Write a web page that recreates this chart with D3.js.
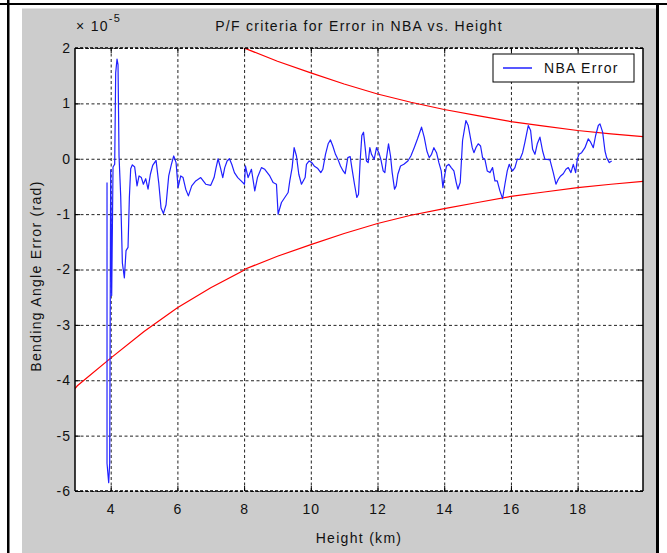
<!DOCTYPE html>
<html>
<head>
<meta charset="utf-8">
<script src="https://cdn.jsdelivr.net/npm/d3@7/dist/d3.min.js"></script>
<style>
  html, body { margin: 0; padding: 0; background: #ffffff; }
  svg { display: block; }
  text { font-family: "Liberation Sans", Arial, Helvetica, sans-serif; fill: #111; }
</style>
</head>
<body>
<svg id="chart" width="667" height="553"></svg>
<script>
// ---------------- data (error values in units of 1e-5 rad) ----------------
const heights = [3.89,3.89,3.94,3.97,4.0,4.03,4.07,4.12,4.15,4.19,4.22,4.25,4.3,4.35,4.41,4.46,4.52,4.56,4.6,4.65,4.72,4.79,4.85,4.92,4.98,5.05,5.12,5.19,5.26,5.36,5.44,5.51,5.58,5.66,5.74,5.82,5.89,5.96,6.02,6.1,6.17,6.25,6.33,6.43,6.55,6.7,6.85,7.0,7.1,7.16,7.22,7.29,7.36,7.42,7.49,7.56,7.63,7.71,7.81,7.91,8.01,8.04,8.12,8.22,8.32,8.4,8.52,8.62,8.77,8.87,8.97,9.02,9.12,9.22,9.32,9.37,9.44,9.5,9.57,9.64,9.72,9.83,9.87,9.95,10.03,10.1,10.2,10.3,10.36,10.44,10.52,10.59,10.66,10.74,10.82,10.89,10.97,11.03,11.11,11.18,11.23,11.31,11.38,11.43,11.48,11.53,11.58,11.63,11.67,11.72,11.77,11.82,11.9,11.97,12.04,12.1,12.17,12.22,12.27,12.33,12.39,12.44,12.51,12.56,12.61,12.69,12.79,12.91,13.0,13.1,13.2,13.32,13.4,13.48,13.55,13.62,13.69,13.77,13.84,13.91,13.96,14.01,14.07,14.14,14.21,14.29,14.36,14.41,14.48,14.55,14.65,14.72,14.84,14.89,14.95,15.02,15.09,15.15,15.22,15.29,15.37,15.45,15.52,15.59,15.67,15.75,15.82,15.89,15.95,15.99,16.05,16.12,16.19,16.27,16.35,16.42,16.52,16.59,16.65,16.72,16.79,16.87,16.95,17.02,17.09,17.17,17.27,17.35,17.42,17.49,17.57,17.65,17.72,17.8,17.87,17.94,17.99,18.04,18.12,18.22,18.32,18.39,18.47,18.54,18.62,18.67,18.75,18.82,18.87,18.95,19.02,19.07];
const nbaError = [-0.43,-5.5,-5.85,-5.5,-0.2,-2.47,-0.15,-0.1,1.55,1.8,1.7,0.05,-0.67,-1.88,-2.15,-1.66,-1.6,-0.7,-0.18,-0.11,-0.15,-0.49,-0.31,-0.34,-0.46,-0.36,-0.55,-0.28,-0.12,-0.03,-0.43,-0.89,-0.99,-0.83,-0.31,-0.1,0.05,-0.07,-0.52,-0.31,-0.34,-0.55,-0.67,-0.49,-0.4,-0.34,-0.46,-0.48,-0.34,-0.16,0.0,-0.16,-0.34,-0.16,-0.04,0.0,-0.1,-0.25,-0.34,-0.4,-0.46,-0.13,-0.34,-0.19,-0.58,-0.34,-0.16,-0.19,-0.31,-0.43,-0.46,-1.0,-0.79,-0.7,-0.61,-0.4,-0.16,0.2,0.05,-0.28,-0.46,-0.34,-0.1,-0.04,-0.07,-0.13,-0.17,-0.25,-0.19,0.08,0.27,0.34,0.23,0.08,-0.02,-0.13,-0.22,-0.27,0.02,0.04,-0.16,-0.46,-0.7,-0.64,-0.04,0.42,0.48,0.2,-0.04,-0.07,0.2,0.08,-0.01,0.2,0.11,-0.01,-0.22,-0.25,0.02,0.27,0.05,-0.25,-0.55,-0.49,-0.28,-0.13,-0.1,-0.04,0.05,0.2,0.36,0.57,0.39,0.14,0.02,0.08,0.2,0.11,-0.07,-0.22,-0.52,-0.31,-0.13,-0.1,-0.16,-0.22,-0.43,-0.55,-0.43,0.33,0.69,0.6,0.2,0.11,0.2,0.27,0.23,0.02,-0.01,-0.22,-0.25,-0.16,-0.4,-0.4,-0.58,-0.72,-0.46,-0.22,-0.1,-0.16,-0.22,-0.16,-0.01,-0.01,0.11,0.3,0.6,0.51,0.17,0.08,0.27,0.39,0.14,-0.01,-0.01,-0.02,-0.25,-0.46,-0.37,-0.31,-0.27,-0.19,-0.16,-0.25,-0.1,-0.25,-0.01,0.08,0.11,0.2,0.36,0.3,0.2,0.42,0.6,0.63,0.48,0.14,0.02,-0.07,-0.04];

const boundHeights = [2.93,3,4,5,6,7,7.98,8,9,10,11,12,13,14,15,16,17,18,19,19.96];
const upperBound   = [4.15,4.1,3.6,3.12,2.69,2.33,2.02,2.0,1.76,1.55,1.35,1.17,1.02,0.89,0.78,0.67,0.59,0.51,0.45,0.4];
const lowerBound   = [-4.15,-4.1,-3.6,-3.12,-2.69,-2.33,-2.02,-2.0,-1.76,-1.55,-1.35,-1.17,-1.02,-0.9,-0.79,-0.68,-0.6,-0.52,-0.46,-0.41];

const xTicks = [4,6,8,10,12,14,16,18];
const yTicks = [-6,-5,-4,-3,-2,-1,0,1,2];
const xDomain = [2.93, 19.96];
const yDomain = [-6, 2];

const titleText = "P/F criteria for Error in NBA vs. Height";
const xLabelText = "Height (km)";
const yLabelText = "Bending Angle Error (rad)";
const legendLabel = "NBA Error";

// ---------------- layout ----------------
const svg = d3.select("#chart");
const L = 75, R = 643, T = 48, B = 491;
const W = R - L, H = B - T;
const LS = 1.3; // letter spacing to mimic the wide bitmap font

// outer frame
svg.append("rect").attr("x", 22).attr("y", 8.5).attr("width", 634).attr("height", 560).attr("fill", "#cccccc");
svg.append("rect").attr("x", 7).attr("y", 0).attr("width", 2.5).attr("height", 553).attr("fill", "#000");
svg.append("rect").attr("x", 0).attr("y", 3).attr("width", 667).attr("height", 2).attr("fill", "#000");
svg.append("rect").attr("x", 656).attr("y", 3).attr("width", 3).attr("height", 550).attr("fill", "#000");

const x = d3.scaleLinear().domain(xDomain).range([L, R]);
const y = d3.scaleLinear().domain(yDomain).range([B, T]);

// plot background
svg.append("rect").attr("x", L).attr("y", T).attr("width", W).attr("height", H).attr("fill", "#ffffff");

svg.append("clipPath").attr("id", "clip")
  .append("rect").attr("x", L).attr("y", T).attr("width", W).attr("height", H);

// grid
const gridStyle = g => {
  g.select(".domain").remove();
  g.selectAll(".tick line").attr("stroke", "#222").attr("stroke-width", 1).attr("stroke-dasharray", "3,2.5");
  g.selectAll(".tick text").remove();
};
svg.append("g").attr("transform", `translate(0,${B})`)
  .call(d3.axisBottom(x).tickValues(xTicks).tickSize(-H).tickFormat(""))
  .call(gridStyle);
svg.append("g").attr("transform", `translate(${L},0)`)
  .call(d3.axisLeft(y).tickValues(yTicks).tickSize(-W).tickFormat(""))
  .call(gridStyle);

// series
const plot = svg.append("g").attr("clip-path", "url(#clip)");
const line = d3.line().x(d => x(d[0])).y(d => y(d[1]));

plot.append("path")
  .datum(boundHeights.map((h, i) => [h, upperBound[i]]))
  .attr("d", line).attr("fill", "none").attr("stroke", "#ff0000").attr("stroke-width", 1.2);
plot.append("path")
  .datum(boundHeights.map((h, i) => [h, lowerBound[i]]))
  .attr("d", line).attr("fill", "none").attr("stroke", "#ff0000").attr("stroke-width", 1.2);

plot.append("path")
  .datum(heights.map((h, i) => [h, nbaError[i]]))
  .attr("d", line).attr("fill", "none").attr("stroke", "#2020ff").attr("stroke-width", 1.2)
  .attr("stroke-linejoin", "round");

// axis box: solid left/right, dashed top/bottom
svg.append("line").attr("x1", L).attr("x2", L).attr("y1", T).attr("y2", B).attr("stroke", "#000").attr("stroke-width", 1.5);
svg.append("line").attr("x1", R).attr("x2", R).attr("y1", T).attr("y2", B).attr("stroke", "#000").attr("stroke-width", 1.5);
svg.append("line").attr("x1", L).attr("x2", R).attr("y1", T).attr("y2", T).attr("stroke", "#000").attr("stroke-width", 1.5).attr("stroke-dasharray", "3,2");
svg.append("line").attr("x1", L).attr("x2", R).attr("y1", B).attr("y2", B).attr("stroke", "#000").attr("stroke-width", 1.5).attr("stroke-dasharray", "3,2");

// inward tick marks
const tickStyle = g => { g.select(".domain").remove(); g.selectAll(".tick line").attr("stroke", "#000"); g.selectAll(".tick text").remove(); };
svg.append("g").attr("transform", `translate(0,${B})`).call(d3.axisBottom(x).tickValues(xTicks).tickSize(-5)).call(tickStyle);
svg.append("g").attr("transform", `translate(0,${T})`).call(d3.axisTop(x).tickValues(xTicks).tickSize(-5)).call(tickStyle);
svg.append("g").attr("transform", `translate(${L},0)`).call(d3.axisLeft(y).tickValues(yTicks).tickSize(-5)).call(tickStyle);
svg.append("g").attr("transform", `translate(${R},0)`).call(d3.axisRight(y).tickValues(yTicks).tickSize(-5)).call(tickStyle);

// tick labels (plain hyphen-minus as in the original)
const fmt = d => String(d);
const labelStyle = g => { g.select(".domain").remove(); g.selectAll(".tick line").remove();
  g.selectAll(".tick text").attr("font-size", 14).attr("fill", "#111").attr("letter-spacing", 1)
    .attr("font-family", "'Liberation Sans', Arial, sans-serif"); };
svg.append("g").attr("transform", `translate(0,${B})`)
  .call(d3.axisBottom(x).tickValues(xTicks).tickSize(0).tickPadding(13).tickFormat(fmt))
  .call(labelStyle);
svg.append("g").attr("transform", `translate(${L},0)`)
  .call(d3.axisLeft(y).tickValues(yTicks).tickSize(0).tickPadding(4).tickFormat(fmt))
  .call(labelStyle);

// exponent label
const expo = svg.append("text").attr("x", 76).attr("y", 31).attr("font-size", 14).attr("letter-spacing", LS);
expo.append("tspan").text("\u00d7 10");
expo.append("tspan").attr("dy", -9).attr("font-size", 11).text("-5");

// title
svg.append("text").attr("x", (L + R) / 2).attr("y", 31).attr("text-anchor", "middle")
  .attr("font-size", 14).attr("letter-spacing", LS).text(titleText);

// axis labels
svg.append("text").attr("x", (L + R) / 2).attr("y", 543).attr("text-anchor", "middle")
  .attr("font-size", 14).attr("letter-spacing", LS).text(xLabelText);
svg.append("text").attr("transform", `translate(41,276) rotate(-90)`)
  .attr("text-anchor", "middle").attr("font-size", 14).attr("letter-spacing", LS).text(yLabelText);

// legend
const lg = svg.append("g");
lg.append("rect").attr("x", 493).attr("y", 54).attr("width", 141).attr("height", 28)
  .attr("fill", "#fff").attr("stroke", "#000").attr("stroke-width", 1);
lg.append("line").attr("x1", 503).attr("x2", 532).attr("y1", 68).attr("y2", 68)
  .attr("stroke", "#2020ff").attr("stroke-width", 1.5);
lg.append("text").attr("x", 544).attr("y", 73).attr("font-size", 14).attr("letter-spacing", LS).text(legendLabel);
</script>
</body>
</html>
